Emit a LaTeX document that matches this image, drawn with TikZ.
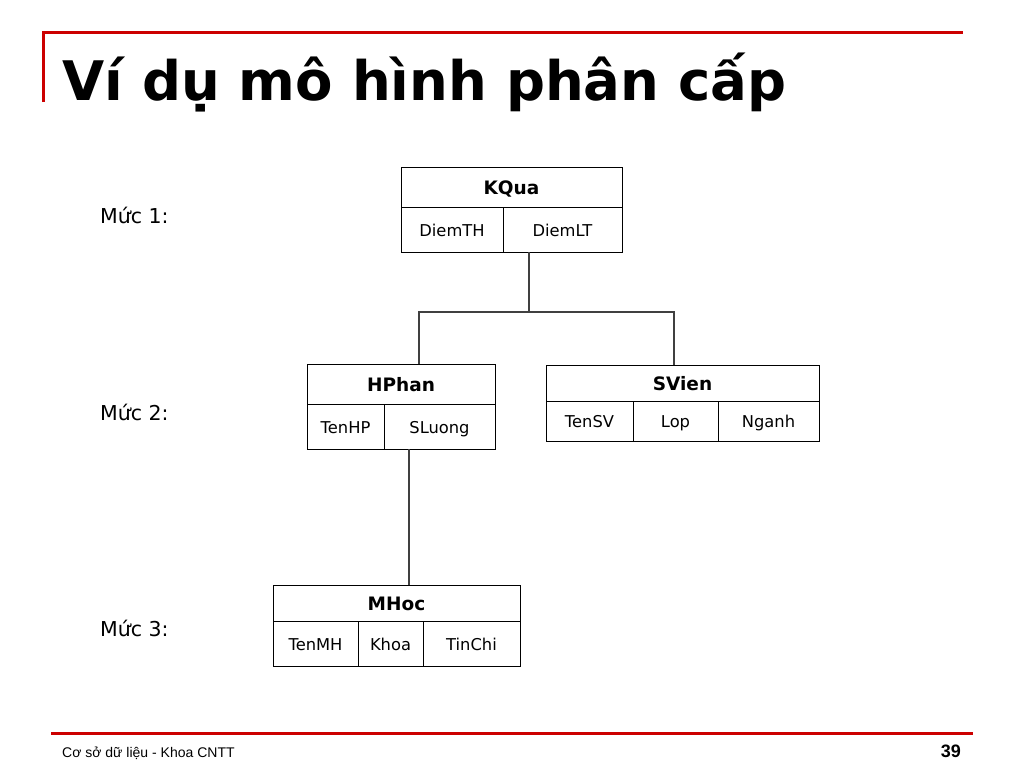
\documentclass[tikz,border=0pt]{standalone}
\usepackage{fontspec}
\setmainfont{DejaVu Sans}
\newfontfamily\footfont{Liberation Sans}
\definecolor{slidered}{RGB}{204,0,0}

\begin{document}
\begin{tikzpicture}[x=1pt,y=-1pt,
    hdr/.style={draw,line width=1pt,minimum height=#1,inner sep=0,outer sep=0,
      text height=15pt,text depth=0pt,
      font=\fontsize{18.5}{20}\selectfont\bfseries},
    fld/.style={draw,line width=1pt,minimum height=#1,inner sep=0,outer sep=0,
      text height=13pt,text depth=0pt,
      font=\fontsize{16.3}{18}\selectfont},
    link/.style={line width=1.2pt,black!75},
    lvl/.style={anchor=base west,inner sep=0,font=\fontsize{20.5}{24}\selectfont}]
      \useasboundingbox (0,0) rectangle (1024,768);
      % slide frame
      \draw[slidered,line width=3pt] (43,102) -- (43,33) -- (963,33);
      \draw[slidered,line width=3pt] (51,733) -- (973,733);
      \node[anchor=base west,inner sep=0,font=\fontsize{54.5}{60}\selectfont\bfseries]
        (title) at (62,100) {Ví dụ mô hình phân cấp};
      \node[anchor=base west,inner sep=0,font=\footfont\fontsize{14}{16}\selectfont]
        (foot) at (62,757) {Cơ sở dữ liệu - Khoa CNTT};
      \node[anchor=base east,inner sep=0,font=\footfont\fontsize{18}{20}\selectfont\bfseries]
        (page) at (961,757) {39};
      % levels
      \node[lvl] (m1) at (100,223) {Mức 1:};
      \node[lvl] (m2) at (100,420) {Mức 2:};
      \node[lvl] (m3) at (100,636) {Mức 3:};
      % KQua
      \node[hdr=40,minimum width=221,anchor=north west] (kqua) at (401,167) {KQua};
      \node[fld=45,minimum width=102,anchor=north west] (kqua-th) at (kqua.south west) {DiemTH};
      \node[fld=45,minimum width=119,anchor=north west] (kqua-lt) at (kqua-th.north east) {DiemLT};
      % HPhan
      \node[hdr=40,minimum width=188,anchor=north west] (hphan) at (307,364) {HPhan};
      \node[fld=45,minimum width=77,anchor=north west] (hphan-hp) at (hphan.south west) {TenHP};
      \node[fld=45,minimum width=111,anchor=north west] (hphan-sl) at (hphan-hp.north east) {SLuong};
      % SVien
      \node[hdr=36,minimum width=273,anchor=north west] (svien) at (546,365) {SVien};
      \node[fld=40,minimum width=87,anchor=north west] (svien-sv) at (svien.south west) {TenSV};
      \node[fld=40,minimum width=85,anchor=north west] (svien-lop) at (svien-sv.north east) {Lop};
      \node[fld=40,minimum width=101,anchor=north west] (svien-ng) at (svien-lop.north east) {Nganh};
      % MHoc
      \node[hdr=36,minimum width=247,anchor=north west] (mhoc) at (273,585) {MHoc};
      \node[fld=45,minimum width=85,anchor=north west] (mhoc-mh) at (mhoc.south west) {TenMH};
      \node[fld=45,minimum width=65,anchor=north west] (mhoc-kh) at (mhoc-mh.north east) {Khoa};
      \node[fld=45,minimum width=97,anchor=north west] (mhoc-tc) at (mhoc-kh.north east) {TinChi};
      % links
      \coordinate (fork) at (529,312);
      \draw[link] (kqua-lt.south -| fork) -- (fork);
      \draw[link] ([xshift=18pt]hphan.north) |- (fork) -| ([xshift=-8.5pt]svien.north);
      \draw[link] ([xshift=12.5pt]mhoc.north) -- ([xshift=12.5pt]mhoc.north |- hphan-sl.south);
    \end{tikzpicture}
\end{document}
